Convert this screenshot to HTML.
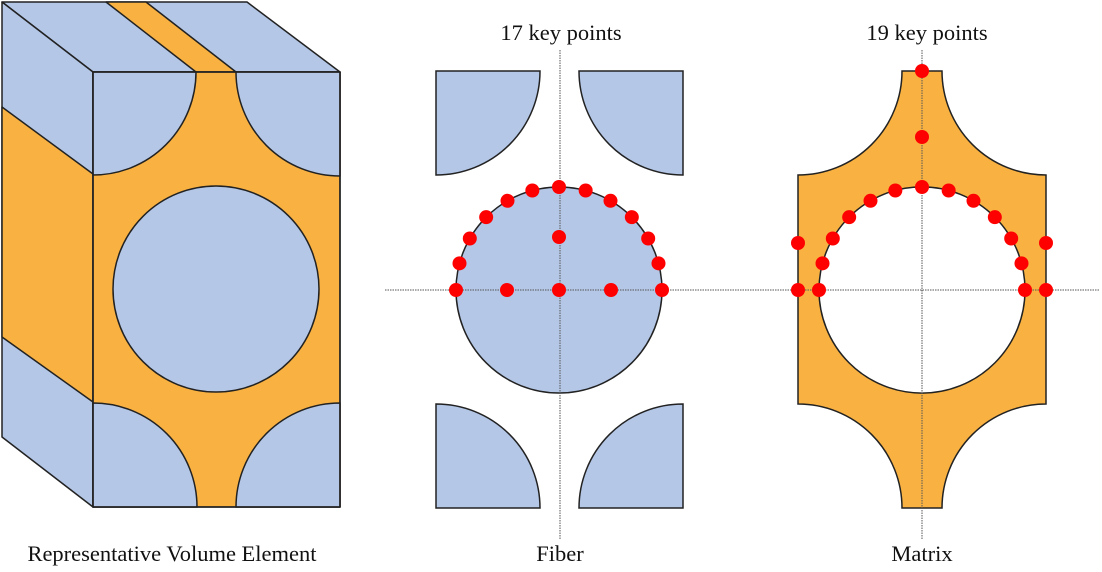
<!DOCTYPE html>
<html><head><meta charset="utf-8"><style>
html,body{margin:0;padding:0;background:#fff;}
svg{display:block;}
text{font-family:"Liberation Serif",serif;font-size:22.5px;fill:#111;}
</style></head><body>
<svg width="1102" height="572" viewBox="0 0 1102 572" xmlns="http://www.w3.org/2000/svg">
<g stroke="#222" stroke-width="1.5" stroke-linejoin="round">
<polygon points="2,2 247,2 340,72 93,72" fill="#b4c7e7"/>
<polygon points="106,2 146,2 236,72 196,72" fill="#f9b242"/>
<polygon points="2,2 93,72 93,507 2,437" fill="#b4c7e7"/>
<polygon points="2,107 93,174 93,402 2,337" fill="#f9b242"/>
<rect x="93" y="72" width="247" height="435" fill="#f9b242"/>
<path d="M93 72 L196 72 A103 103 0 0 1 93 175 Z" fill="#b4c7e7"/>
<path d="M340 72 L340 176 A104 104 0 0 1 236 72 Z" fill="#b4c7e7"/>
<path d="M93 507 L93 403 A104 104 0 0 1 197 507 Z" fill="#b4c7e7"/>
<path d="M340 507 L236 507 A104 104 0 0 1 340 403 Z" fill="#b4c7e7"/>
<circle cx="216" cy="289" r="103" fill="#b4c7e7"/>
<rect x="93" y="72" width="247" height="435" fill="none"/>
</g>
<g stroke="#222" stroke-width="1.5" fill="#b4c7e7">
<path d="M436 71 L540 71 A104 104 0 0 1 436 175 Z"/>
<path d="M683 71 L683 175 A104 104 0 0 1 579 71 Z"/>
<path d="M436 508 L436 404 A104 104 0 0 1 540 508 Z"/>
<path d="M683 508 L579 508 A104 104 0 0 1 683 404 Z"/>
<circle cx="559" cy="290" r="103"/>
</g>
<path fill="#f9b242" fill-rule="evenodd" stroke="#222" stroke-width="1.5" d="M902 71 L942 71 A104 104 0 0 0 1046 175 L1046 404 A104 104 0 0 0 942 508 L902 508 A104 104 0 0 0 798 404 L798 175 A104 104 0 0 0 902 71 Z M819 290 A103 103 0 1 0 1025 290 A103 103 0 1 0 819 290 Z"/>
<g stroke="#555" stroke-width="1" stroke-dasharray="1.5,1">
<line x1="560" y1="50" x2="560" y2="540"/>
<line x1="385" y1="290" x2="735" y2="290"/>
<line x1="922" y1="50" x2="922" y2="540"/>
<line x1="735" y1="290" x2="1100" y2="290"/>
</g>
<g fill="#ff0000" id="dots"></g>
<text x="561" y="40" text-anchor="middle">17 key points</text>
<text x="927" y="40" text-anchor="middle">19 key points</text>
<text x="172" y="561" text-anchor="middle">Representative Volume Element</text>
<text x="560" y="561" text-anchor="middle">Fiber</text>
<text x="922" y="561" text-anchor="middle">Matrix</text>
</svg>
<script>
var g=document.getElementById('dots'),ns='http://www.w3.org/2000/svg';
function d(x,y){var c=document.createElementNS(ns,'circle');c.setAttribute('cx',x);c.setAttribute('cy',y);c.setAttribute('r',7);g.appendChild(c);}
function arc(cx){for(var a=0;a<=180;a+=15){var r=a*Math.PI/180;d(cx+103*Math.cos(r),290-103*Math.sin(r));}}
arc(559);d(507,290);d(559,290);d(611,290);d(559,237);
arc(922);d(922,71);d(922,137);d(798,243);d(798,290);d(1046,243);d(1046,290);
</script>
</body></html>
